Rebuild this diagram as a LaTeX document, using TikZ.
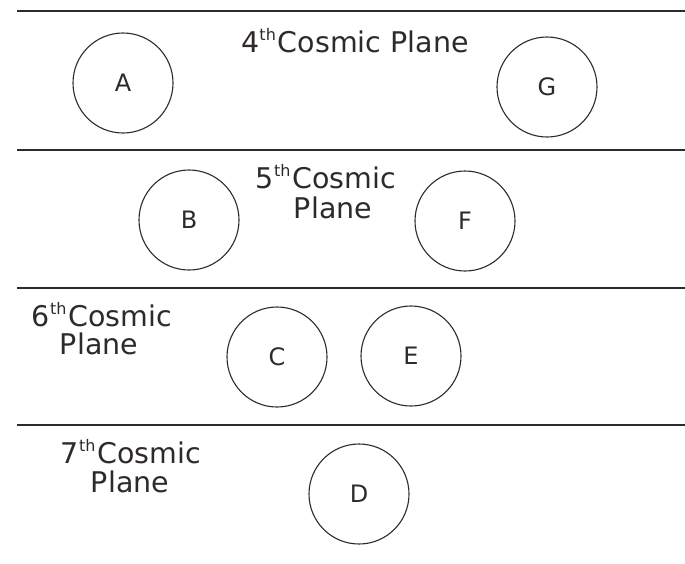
\documentclass[tikz,border=0pt]{standalone}
\usepackage{fontspec}
\setmainfont{DejaVu Sans}
\definecolor{ink}{HTML}{2E2A2C}
\begin{document}
\begin{tikzpicture}[x=1pt,y=-1pt,
  ball/.style={draw=ink,line width=1.1pt,circle,minimum size=100pt,inner sep=0pt,
    text=ink,font=\fontsize{24}{24}\selectfont},
  planetext/.style={text=ink,font=\fontsize{28.5}{28.5}\selectfont,anchor=base,inner sep=0pt},
  divider/.style={draw=ink,line width=1.8pt}]
\useasboundingbox (0,0) rectangle (685,563);
\newcommand{\ordsup}[1]{\raisebox{0.42em}{\fontsize{16}{16}\selectfont #1}\kern2pt}
% dividers
\foreach \n/\y in {1/11,2/150,3/288,4/425}{
  \coordinate (L\n) at (17,\y);
  \coordinate (R\n) at (685,\y);
  \draw[divider] (L\n) -- (R\n);
}
% 4th plane
\node[ball] (A) at (123,83) {A};
\node[ball] (G) at (547,87) {G};
\node[planetext] (t4) at (355,52) {4\ordsup{th}Cosmic Plane};
% 5th plane
\node[ball] (B) at (189,220) {B};
\node[ball] (F) at (465,221) {F};
\node[planetext] (t5a) at (326,188) {5\ordsup{th}Cosmic};
\node[planetext] (t5b) at (333,218) {Plane};
% 6th plane
\node[ball] (C) at (277,357) {C};
\node[ball] (E) at (411,356) {E};
\node[planetext] (t6a) at (102,326) {6\ordsup{th}Cosmic};
\node[planetext] (t6b) at (99,354) {Plane};
% 7th plane
\node[ball] (D) at (359,494) {D};
\node[planetext] (t7a) at (131,463) {7\ordsup{th}Cosmic};
\node[planetext] (t7b) at (130,492) {Plane};
\end{tikzpicture}
\end{document}
